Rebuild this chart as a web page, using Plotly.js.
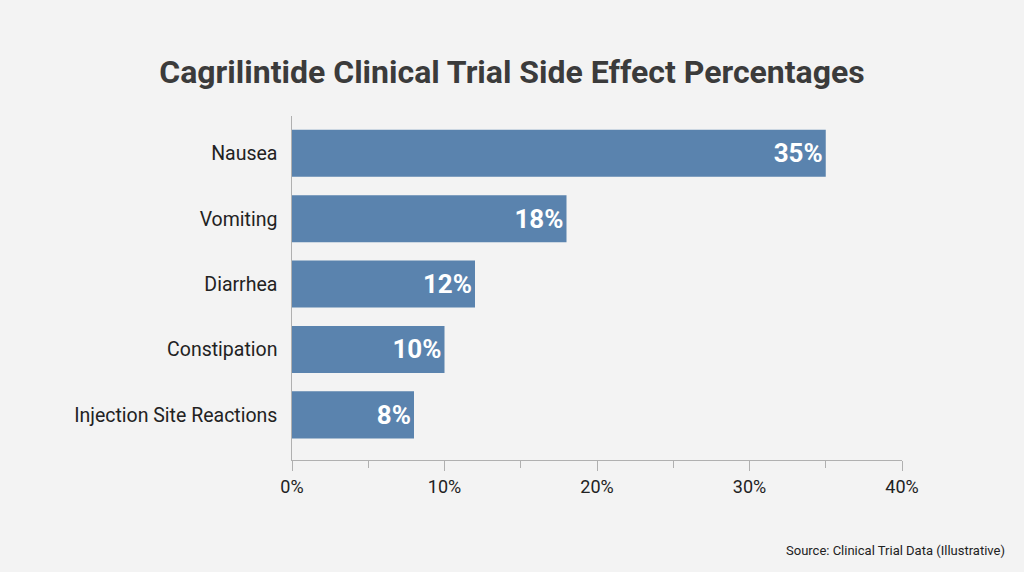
<!DOCTYPE html>
<html>
<head>
<meta charset="utf-8">
<script src="https://cdn.plot.ly/plotly-3.0.1.min.js"></script>
<style>
  html, body { margin: 0; padding: 0; background: #f3f3f3; }
  #chart { width: 1024px; height: 572px; }
</style>
</head>
<body>
<div id="chart"></div>
<script>
// side effects, top to bottom
const effects = ["Nausea", "Vomiting", "Diarrhea", "Constipation", "Injection Site Reactions"];
const percents = [35, 18, 12, 10, 8];
const tickVals = [0, 10, 20, 30, 40];
const tickText = ["0%", "10%", "20%", "30%", "40%"];

let trace = {
    type: "bar",
    orientation: "h",
    x: percents,
    y: effects,
    width: 0.72,
    marker: { color: "#5a83ae" },
    text: percents.map(p => p + "%"),
    textposition: "inside",
    insidetextanchor: "end",
    textfont: { family: "Roboto", size: 26, color: "#ffffff", weight: "bold" },
    hoverinfo: "skip"
};

let layout = {
    width: 1024,
    height: 572,
    paper_bgcolor: "#f3f3f3",
    plot_bgcolor: "#f3f3f3",
    margin: { l: 292, r: 122, t: 116, b: 112 },
    font: { family: "Roboto", color: "#222222" },
    showlegend: false,
    title: {
        text: "<b>Cagrilintide Clinical Trial Side Effect Percentages</b>",
        font: { family: "Roboto", size: 32, color: "#3b3b3b" },
        x: 0.5,
        xanchor: "center",
        y: 1 - 72 / 572,
        yanchor: "middle"
    },
    xaxis: {
        range: [0, 40],
        tickvals: tickVals,
        ticktext: tickText,
        ticks: "outside",
        ticklen: 10,
        tickcolor: "#b0b0b0",
        tickfont: { size: 18, color: "#222222" },
        showline: true,
        linecolor: "#b0b0b0",
        linewidth: 1,
        showgrid: false,
        zeroline: false,
        fixedrange: true,
        minor: { dtick: 5, ticks: "outside", ticklen: 7, tickcolor: "#b0b0b0", showgrid: false }
    },
    yaxis: {
        type: "category",
        range: [4.69, -0.57],
        ticks: "",
        ticksuffix: "  ",
        tickfont: { size: 19.5, color: "#222222" },
        showline: true,
        linecolor: "#b0b0b0",
        linewidth: 1,
        showgrid: false,
        zeroline: false,
        fixedrange: true
    },
    annotations: [{
        text: "Source: Clinical Trial Data (Illustrative)",
        xref: "paper", yref: "paper",
        x: (1007 - 292) / 610, y: -(550 - 460) / 344,
        xanchor: "right", yanchor: "middle",
        showarrow: false,
        font: { family: "Roboto", size: 13, color: "#222222" }
    }]
};

Plotly.newPlot("chart", [trace], layout, { displayModeBar: false, staticPlot: true });
</script>
</body>
</html>
